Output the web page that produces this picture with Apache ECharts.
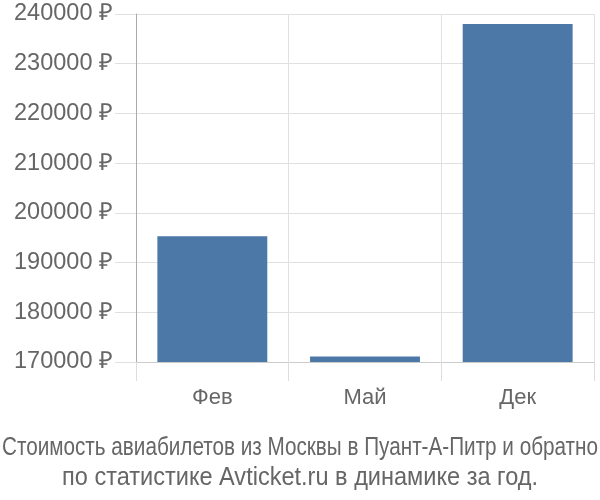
<!DOCTYPE html>
<html><head><meta charset="utf-8">
<script src="https://cdn.jsdelivr.net/npm/echarts@6/dist/echarts.min.js"></script>
<style>html,body{margin:0;padding:0;background:#fff}#c{width:600px;height:500px}</style>
</head><body><div id="c"></div>
<script>
const categories = ['Фев', 'Май', 'Дек'];
const prices = [195300, 171100, 238000];
const yTicks = { min: 170000, max: 240000, step: 10000 };
const titleLines = ['Стоимость авиабилетов из Москвы в Пуант-А-Питр и обратно', 'по статистике Avticket.ru в динамике за год.'];

const titleFont = '25px "Liberation Sans", Arial, sans-serif';
const titleWidths = [596, 476];
const ctx = document.createElement('canvas').getContext('2d');
ctx.font = titleFont;
const scales = titleLines.map((t, i) => Math.min(1, titleWidths[i] / ctx.measureText(t).width));

const chart = echarts.init(document.getElementById('c'));
chart.setOption({
  animation: false,
  graphic: titleLines.map((t, i) => ({
    type: 'text', x: 300, y: 448 + i * 30, scaleX: scales[i],
    style: { text: t, font: titleFont, fill: '#666', align: 'center', verticalAlign: 'middle' }
  })),
  grid: { left: 136, top: 14, right: 6, bottom: 138 },
  xAxis: {
    type: 'category', data: categories,
    axisLine: { show: true, lineStyle: { color: '#ccc' } },
    axisTick: { show: true, length: 19, lineStyle: { color: '#ddd' } },
    splitLine: { show: true, lineStyle: { color: '#e0e0e0' } },
    axisLabel: { fontFamily: 'Liberation Sans', fontSize: 22, color: '#666', margin: 25 }
  },
  yAxis: {
    type: 'value', min: yTicks.min, max: yTicks.max, interval: yTicks.step,
    axisLine: { show: true, lineStyle: { color: '#aaa' } },
    axisTick: { show: true, length: 21, lineStyle: { color: '#e0e0e0' } },
    splitLine: { show: true, lineStyle: { color: '#e0e0e0' } },
    axisLabel: { fontFamily: 'Liberation Sans', fontSize: 23.5, color: '#666', margin: 23, formatter: v => v + ' ₽' }
  },
  series: [{
    type: 'bar', data: prices, barCategoryGap: '28%',
    itemStyle: { color: '#4c78a8' }
  }]
});
</script></body></html>
